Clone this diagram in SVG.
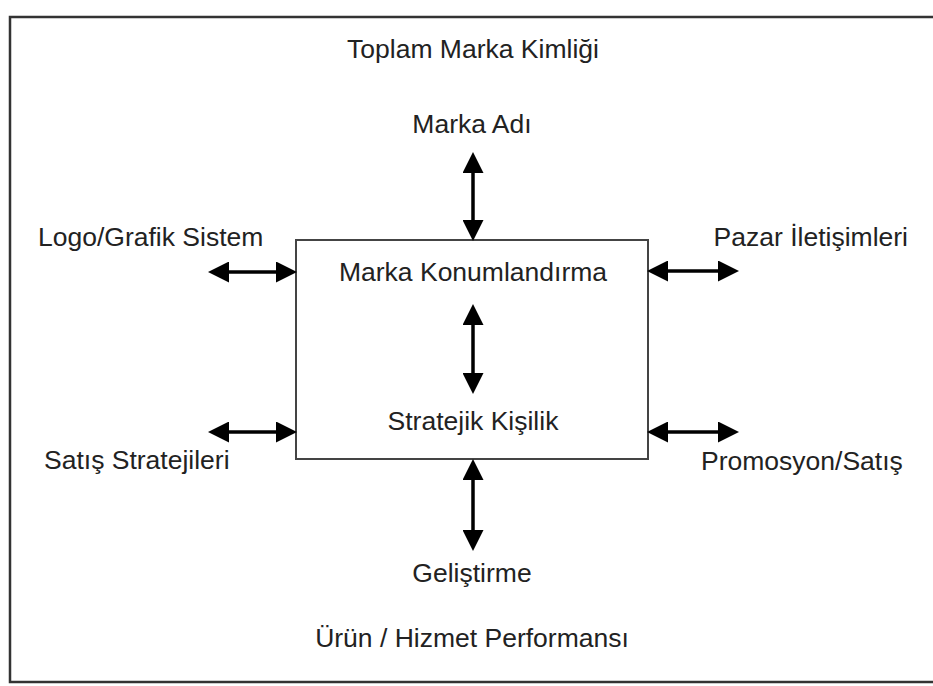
<svg xmlns="http://www.w3.org/2000/svg" width="933" height="686" viewBox="0 0 933 686">
  <style>
    .lbl { font-family: "Liberation Sans", Arial, sans-serif; font-size: 26.5px; fill: #222; }
    .mid { text-anchor: middle; }
    .frame { fill: none; stroke: #333; stroke-width: 2.5; }
    .box { fill: #fff; stroke: #444; stroke-width: 2; }
    .arr { stroke: #000; stroke-width: 3.5; fill: none; marker-start: url(#head); marker-end: url(#head); }
  </style>
  <defs>
    <marker id="head" markerUnits="userSpaceOnUse" markerWidth="21" markerHeight="21" refX="10" refY="10.5" viewBox="0 0 21 21" orient="auto-start-reverse">
      <path d="M0,0 L21,10.5 L0,21 z" fill="#000"/>
    </marker>
  </defs>
  <rect width="933" height="686" fill="#fff"/>
  <g id="frame">
    <rect class="frame" x="10" y="17" width="940" height="665"/>
    <text class="lbl mid" x="473" y="58">Toplam Marka Kimliği</text>
    <text class="lbl mid" x="472" y="647">Ürün / Hizmet Performansı</text>
  </g>
  <g id="center">
    <rect class="box" x="296" y="240" width="352" height="219"/>
    <text class="lbl mid" x="473" y="281">Marka Konumlandırma</text>
    <text class="lbl mid" x="473" y="430">Stratejik Kişilik</text>
  </g>
  <g id="marka-adi"><text class="lbl mid" x="472" y="133">Marka Adı</text></g>
  <g id="logo"><text class="lbl" x="38" y="246">Logo/Grafik Sistem</text></g>
  <g id="pazar"><text class="lbl" x="908" y="246" text-anchor="end">Pazar İletişimleri</text></g>
  <g id="satis"><text class="lbl" x="44" y="469">Satış Stratejileri</text></g>
  <g id="promosyon"><text class="lbl" x="701" y="470">Promosyon/Satış</text></g>
  <g id="gelistirme"><text class="lbl mid" x="472" y="582">Geliştirme</text></g>
  <g id="connectors">
    <line class="arr" x1="473" y1="163" x2="473" y2="230"/>
    <line class="arr" x1="473" y1="315" x2="473" y2="383"/>
    <line class="arr" x1="473" y1="470" x2="473" y2="540"/>
    <line class="arr" x1="219" y1="272" x2="286" y2="272"/>
    <line class="arr" x1="658" y1="271" x2="728" y2="271"/>
    <line class="arr" x1="219" y1="432" x2="286" y2="432"/>
    <line class="arr" x1="658" y1="432" x2="728" y2="432"/>
  </g>
</svg>
